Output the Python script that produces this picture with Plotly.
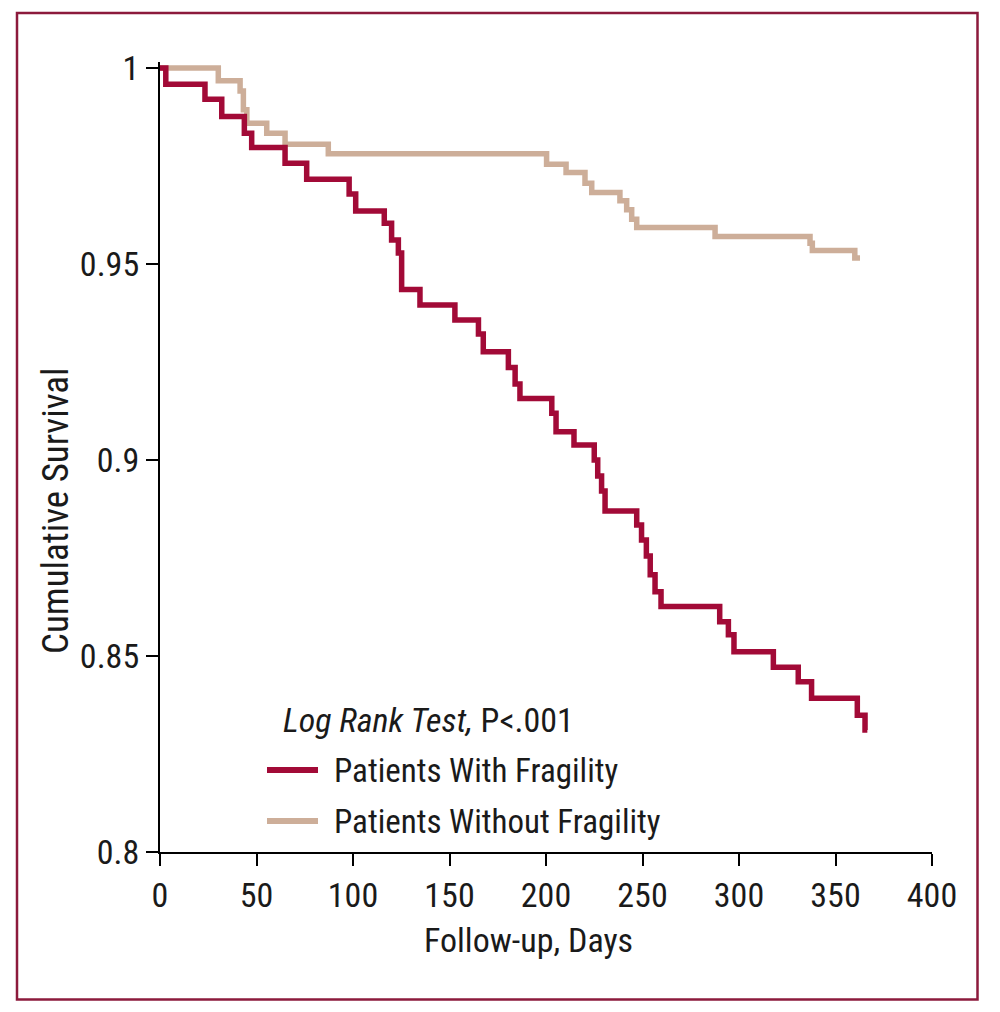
import plotly.graph_objects as go

# Kaplan-Meier step data (days, cumulative survival)
frag_days = [0, 3, 23.3, 32, 43.7, 47.5, 64.8, 76, 98, 101.4, 116.2, 120, 123.5, 125.2,
             134.7, 152.8, 165, 167.5, 180.5, 184, 186.5, 203, 205.2, 214.5, 225, 226.8,
             228.8, 230.6, 247, 249.5, 252, 254, 256.5, 259.6, 290, 294.5, 297.4, 317.8,
             330.7, 337.6, 361.3, 365.3, 366.5]
frag_surv = [1.0, 0.9958, 0.9920, 0.9876, 0.9833, 0.9797, 0.9757, 0.9716, 0.9678, 0.9635,
             0.9604, 0.9561, 0.9528, 0.9435, 0.9395, 0.9357, 0.9321, 0.9276, 0.9236, 0.9194,
             0.9157, 0.9119, 0.9072, 0.9038, 0.9000, 0.8959, 0.8921, 0.8870, 0.8834, 0.8796,
             0.8755, 0.8707, 0.8664, 0.8626, 0.8587, 0.8554, 0.8511, 0.8471, 0.8434, 0.8392,
             0.8349, 0.8311, 0.8311]

nofrag_days = [0, 30.2, 41.5, 43.2, 45, 55.3, 64.8, 87.2, 200.3, 210.4, 220.2, 223.7,
               238.3, 241.8, 244.4, 247, 287.6, 336.8, 338, 360, 362.7]
nofrag_surv = [1.0, 0.9967, 0.9941, 0.9893, 0.9859, 0.9833, 0.9805, 0.9781, 0.9754, 0.9733,
               0.9706, 0.9682, 0.9661, 0.9638, 0.9614, 0.9593, 0.9570, 0.9553, 0.9534,
               0.9515, 0.9515]

x_ticks = [0, 50, 100, 150, 200, 250, 300, 350, 400]
y_ticks = [0.8, 0.85, 0.9, 0.95, 1.0]
y_tick_labels = ["0.8", "0.85", "0.9", "0.95", "1"]

series_names = ["Patients With Fragility", "Patients Without Fragility"]
RED = "#a20a37"
TAN = "#cdae99"
BORDER = "#8c1a3c"
FONT = "Roboto Condensed, Roboto, sans-serif"
TXT = "#1a1a1a"
FS = 34

fig = go.Figure()
fig.add_trace(go.Scatter(x=nofrag_days, y=nofrag_surv, mode="lines",
                         line=dict(shape="hv", color=TAN, width=5.5),
                         name=series_names[1], showlegend=False))
fig.add_trace(go.Scatter(x=frag_days, y=frag_surv, mode="lines",
                         line=dict(shape="hv", color=RED, width=5.5),
                         name=series_names[0], showlegend=False))

OFF = 8  # page body offset
W, H = 1000, 1012
L, T = 160 - OFF, 62 - OFF
R = W - (932 - OFF)
B = H - (852 - OFF)
pw, ph = W - L - R, H - T - B


def px(xp):
    return (xp - OFF - L) / pw


def py(yp):
    return (H - B - (yp - OFF)) / ph


# legend-like block
fig.add_annotation(x=px(281), y=py(720), xref="paper", yref="paper", xanchor="left",
                   yanchor="middle", showarrow=False,
                   text="<i>Log Rank Test,</i> P<.001",
                   font=dict(family=FONT, size=FS, color=TXT))
for name, col, yy in [(series_names[0], RED, 770), (series_names[1], TAN, 821)]:
    fig.add_shape(type="line", xref="paper", yref="paper", x0=px(267), x1=px(318),
                  y0=py(yy), y1=py(yy), line=dict(color=col, width=6))
    fig.add_annotation(x=px(332), y=py(yy), xref="paper", yref="paper", xanchor="left",
                       yanchor="middle", showarrow=False, text=name,
                       font=dict(family=FONT, size=33, color=TXT))

# axis titles
fig.add_annotation(x=px(528), y=py(940), xref="paper", yref="paper", showarrow=False,
                   text="Follow-up, Days", xanchor="center", yanchor="middle",
                   font=dict(family=FONT, size=FS, color=TXT))
fig.add_annotation(x=px(56), y=py(511), xref="paper", yref="paper", showarrow=False,
                   text="Cumulative Survival", textangle=-90, xanchor="center",
                   yanchor="middle", font=dict(family=FONT, size=37, color=TXT))

# frame
fig.add_shape(type="rect", xref="paper", yref="paper", x0=px(17), x1=px(977.5),
              y0=py(999.5), y1=py(13), line=dict(color=BORDER, width=2.5),
              fillcolor="rgba(0,0,0,0)")

fig.update_xaxes(range=[0, 400], tickvals=x_ticks, ticks="outside", ticklen=12,
                 tickwidth=2, tickcolor="black", showline=True, linecolor="black",
                 linewidth=2, showgrid=False, zeroline=False,
                 tickfont=dict(family=FONT, size=FS, color=TXT))
fig.update_yaxes(range=[0.8, 1.0015], tickvals=y_ticks, ticktext=y_tick_labels,
                 ticks="outside", ticklen=12, tickwidth=2, tickcolor="black",
                 showline=True, linecolor="black", linewidth=2, showgrid=False,
                 zeroline=False, tickfont=dict(family=FONT, size=FS, color=TXT))

fig.update_layout(width=W, height=H, margin=dict(l=L, r=R, t=T, b=B),
                  paper_bgcolor="white", plot_bgcolor="white", showlegend=False)

fig.write_html("out.html")
